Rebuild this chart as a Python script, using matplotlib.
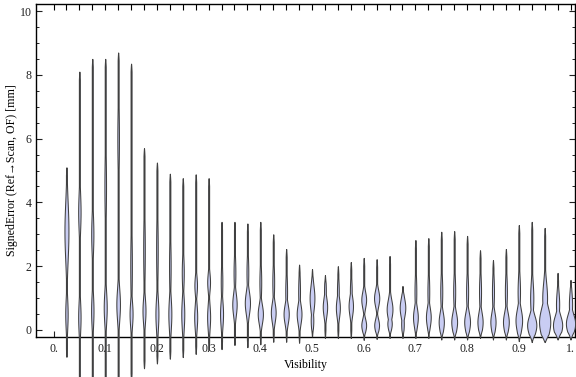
import numpy as np
import matplotlib.pyplot as plt
from matplotlib.ticker import MultipleLocator

plt.rcParams['font.family'] = ['Liberation Serif', 'DejaVu Serif']
plt.rcParams['font.size'] = 8.6

# visibility bins (category centres)
visibility = [0.025, 0.05, 0.075, 0.1, 0.125, 0.15, 0.175, 0.2, 0.225, 0.25,
              0.275, 0.3, 0.325, 0.35, 0.375, 0.4, 0.425, 0.45, 0.475, 0.5,
              0.525, 0.55, 0.575, 0.6, 0.625, 0.65, 0.675, 0.7, 0.725, 0.75,
              0.775, 0.8, 0.825, 0.85, 0.875, 0.9, 0.925, 0.95, 0.975, 1.0]

# extent of each distribution [mm]
err_max = [5.1, 8.1, 8.5, 8.5, 8.7, 8.35, 5.7, 5.25, 4.9, 4.76,
           4.88, 4.76, 3.39, 3.39, 3.34, 3.39, 3.0, 2.54, 2.05, 1.91,
           1.72, 2.0, 2.13, 2.26, 2.22, 2.32, 1.38, 2.82, 2.88, 3.08,
           3.1, 2.95, 2.5, 2.19, 2.54, 3.29, 3.39, 3.2, 1.79, 1.57]
err_min = [-0.84, -1.7, -1.7, -1.7, -1.7, -1.6, -1.2, -1.05, -0.9, -0.85,
           -0.75, -0.63, -0.6, -0.47, -0.54, -0.45, -0.37, -0.37, -0.4, -0.2,
           -0.25, -0.25, -0.25, -0.31, -0.28, -0.25, -0.25, -0.25, -0.25, -0.3,
           -0.3, -0.3, -0.25, -0.3, -0.3, -0.35, -0.38, -0.38, -0.3, -0.3]

# main density peak: position [mm], half width [px], spread [mm]
peak_at = [3.1, 3.7, 3.0, 0.7, 0.8, 0.5, 0.6, 0.5, 0.5, 0.5,
           0.4, 0.4, 0.5, 0.8, 0.85, 0.5, 0.55, 0.5, 0.5, 1.0,
           0.72, 0.7, 0.75, 0.95, 1.0, 0.65, 0.7, 0.4, 0.4, 0.25,
           0.25, 0.25, 0.25, 0.25, 0.25, 0.3, 0.15, 0.25, 0.15, 0.2]
peak_w = [2.0, 1.2, 1.1, 1.5, 1.8, 1.5, 1.5, 1.5, 1.5, 1.5,
          1.5, 1.5, 1.5, 2.2, 2.6, 2.6, 2.4, 2.6, 2.4, 2.4,
          2.2, 2.0, 2.2, 2.4, 2.6, 2.9, 2.8, 2.4, 2.4, 2.6,
          2.9, 2.9, 2.6, 2.6, 2.9, 3.3, 4.6, 5.6, 4.6, 4.6]
peak_s = [0.9, 0.6, 0.6, 0.5, 0.5, 0.4, 0.4, 0.5, 0.5, 0.5,
          0.4, 0.4, 0.4, 0.35, 0.35, 0.3, 0.3, 0.3, 0.3, 0.4,
          0.3, 0.3, 0.3, 0.25, 0.25, 0.3, 0.3, 0.3, 0.3, 0.3,
          0.3, 0.3, 0.3, 0.3, 0.3, 0.35, 0.3, 0.45, 0.3, 0.3]

# secondary peak
peak2_at = [0.5, 0.4, 0.6, 4.5, 6.0, 2.0, 2.5, 2.5, 2.0, 1.8,
            1.4, 1.5, 1.5, 1.8, 1.8, 1.5, 1.5, 1.2, 1.2, 0.3,
            1.2, 1.2, 1.2, 0.15, 0.15, 0.2, 0.2, 1.2, 1.2, 1.2,
            1.2, 1.2, 1.2, 1.2, 1.2, 1.2, 1.0, 1.0, 0.8, 0.8]
peak2_w = [1.2, 1.2, 1.2, 0.8, 0.8, 0.8, 0.8, 0.8, 0.8, 1.0,
           1.3, 1.4, 0.8, 0.9, 0.9, 0.9, 0.9, 0.9, 0.9, 1.3,
           0.9, 0.9, 0.9, 2.4, 2.4, 2.2, 1.3, 0.9, 0.9, 1.0,
           1.0, 1.0, 1.0, 1.0, 1.0, 1.2, 1.6, 2.4, 1.6, 1.6]
peak2_s = [0.5, 0.5, 0.5, 1.0, 1.0, 1.0, 1.0, 1.0, 0.8, 0.5,
           0.3, 0.3, 0.5, 0.5, 0.5, 0.5, 0.5, 0.5, 0.5, 0.3,
           0.4, 0.4, 0.4, 0.2, 0.2, 0.2, 0.3, 0.5, 0.5, 0.5,
           0.5, 0.5, 0.5, 0.5, 0.5, 0.5, 0.5, 0.5, 0.4, 0.4]

xtick_vals = [0.0, 0.1, 0.2, 0.3, 0.4, 0.5, 0.6, 0.7, 0.8, 0.9, 1.0]
xtick_txt = ['0.', '0.1', '0.2', '0.3', '0.4', '0.5', '0.6', '0.7', '0.8', '0.9', '1.']

px = 1.0 / 517  # one pixel in x data units
tail_w = 0.5

fig = plt.figure(figsize=(5.76, 3.77), dpi=100)
ax = fig.add_axes([36 / 576, 40 / 377, 539 / 576, 333 / 377])

for i, x in enumerate(visibility):
    lo, hi = err_min[i], err_max[i]
    y = np.linspace(lo, hi, 500)
    d = np.minimum(y - lo, hi - y)
    env = np.clip(d / 0.25, 0, 1) ** 0.7
    p1 = peak_w[i] * np.exp(-0.5 * ((y - peak_at[i]) / peak_s[i]) ** 2)
    p2 = peak2_w[i] * np.exp(-0.5 * ((y - peak2_at[i]) / peak2_s[i]) ** 2)
    hw = np.maximum(np.maximum(p1, p2), tail_w) * env * px
    ax.fill_betweenx(y, x - hw, x + hw, facecolor='#c9cdf3', edgecolor='#404040',
                     linewidth=0.75, clip_on=False, zorder=3)

ax.set_xlim(-0.0339, 1.0087)
ax.set_ylim(-0.22, 10.22)

ax.set_xticks(xtick_vals)
ax.set_xticklabels(xtick_txt)
ax.set_yticks([0, 2, 4, 6, 8, 10])
ax.yaxis.set_minor_locator(MultipleLocator(0.5))
ax.tick_params(axis='x', which='major', direction='in', length=4, width=0.8, top=False,
               pad=4, colors='#222222')
ax.tick_params(axis='y', which='major', direction='in', length=4, width=0.8, right=True,
               pad=3, colors='#222222')
ax.tick_params(axis='y', which='minor', direction='in', length=2.2, width=0.6, right=True)

top = ax.secondary_xaxis('top')
top.set_xticks([0.0] + visibility)
top.set_xticklabels([])
top.tick_params(direction='in', length=4, width=0.8)
top.spines['top'].set_visible(False)

for s in ax.spines.values():
    s.set_linewidth(1.0)

ax.set_xlabel('Visibility', labelpad=3)
ax.set_ylabel('SignedError (Ref\u2192Scan, OF) [mm]', labelpad=1)

plt.savefig('out.png', dpi=100)
